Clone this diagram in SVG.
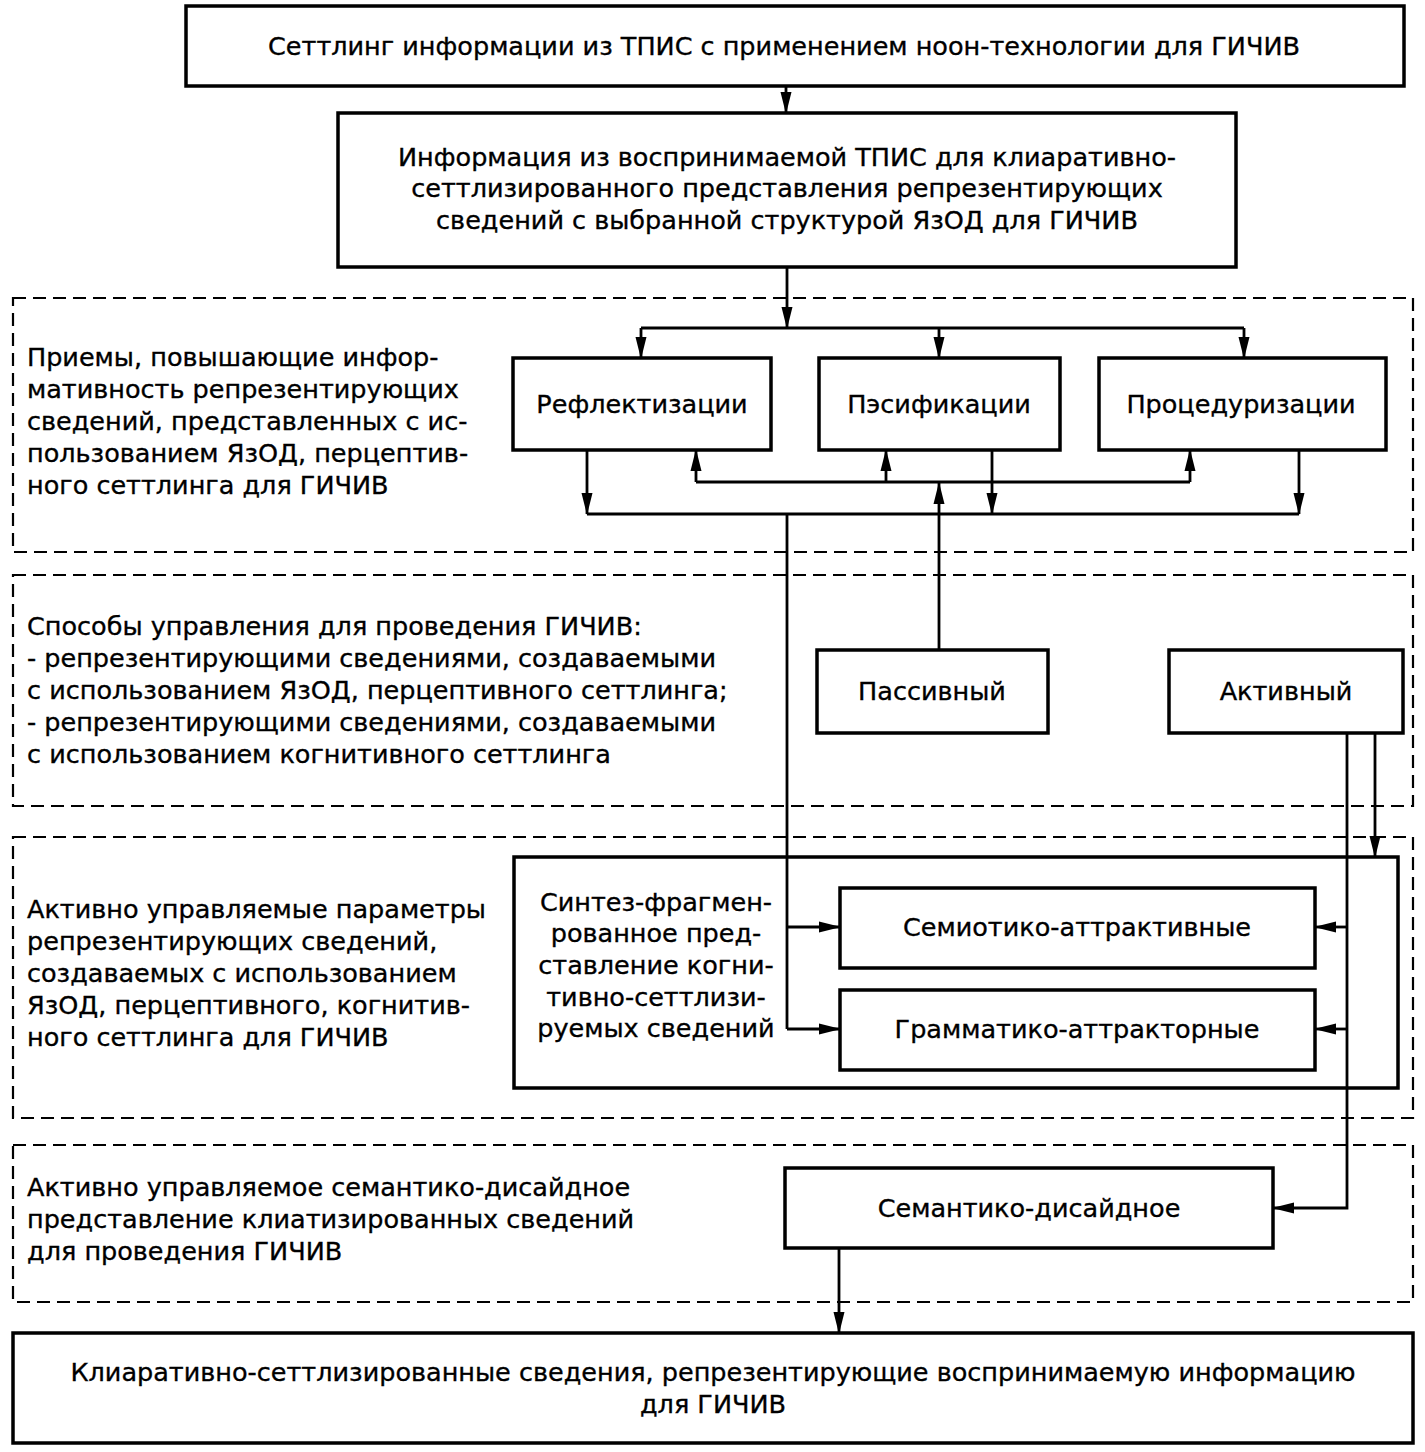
<svg xmlns="http://www.w3.org/2000/svg" width="1425" height="1452" viewBox="0 0 1425 1452">
<defs>
<marker id="ah" markerUnits="userSpaceOnUse" markerWidth="22" markerHeight="12" refX="21" refY="6" orient="auto">
<path d="M0,0.5 L22,6 L0,11.5 z" fill="#000"/>
</marker>
</defs>
<style>
text{font-family:"DejaVu Sans","Liberation Sans",Arial,sans-serif;font-size:25.5px;fill:#000;stroke:#000;stroke-width:0.35}
.c{text-anchor:middle}
.box{fill:#fff;stroke:#000;stroke-width:3.5}
.grp{fill:none;stroke:#000;stroke-width:2.2;stroke-dasharray:13 7}
.ln{fill:none;stroke:#000;stroke-width:2.8}
.ar{fill:none;stroke:#000;stroke-width:2.8;marker-end:url(#ah)}
</style>
<rect width="1425" height="1452" fill="#fff"/>
<g id="groups">
<rect class="grp" x="13" y="298" width="1400" height="254"/>
<rect class="grp" x="13" y="575" width="1400" height="231"/>
<rect class="grp" x="13" y="837" width="1400" height="281"/>
<rect class="grp" x="13" y="1145" width="1400" height="157"/>
</g>
<g id="group-labels">
<text x="27" y="366">Приемы, повышающие инфор-</text>
<text x="27" y="398">мативность репрезентирующих</text>
<text x="27" y="430">сведений, представленных с ис-</text>
<text x="27" y="462">пользованием ЯзОД, перцептив-</text>
<text x="27" y="494">ного сеттлинга для ГИЧИВ</text>
<text x="27" y="635">Способы управления для проведения ГИЧИВ:</text>
<text x="27" y="667">- репрезентирующими сведениями, создаваемыми</text>
<text x="27" y="699">с использованием ЯзОД, перцептивного сеттлинга;</text>
<text x="27" y="731">- репрезентирующими сведениями, создаваемыми</text>
<text x="27" y="763">с использованием когнитивного сеттлинга</text>
<text x="27" y="918">Активно управляемые параметры</text>
<text x="27" y="950">репрезентирующих сведений,</text>
<text x="27" y="982">создаваемых с использованием</text>
<text x="27" y="1014">ЯзОД, перцептивного, когнитив-</text>
<text x="27" y="1046">ного сеттлинга для ГИЧИВ</text>
<text x="27" y="1196">Активно управляемое семантико-дисайдное</text>
<text x="27" y="1228">представление клиатизированных сведений</text>
<text x="27" y="1260">для проведения ГИЧИВ</text>
</g>
<g id="connectors">
<path class="ar" d="M786,86 V113"/>
<path class="ar" d="M787,267 V328"/>
<path class="ln" d="M641,328 H1244"/>
<path class="ar" d="M641,328 V358"/>
<path class="ar" d="M939,328 V358"/>
<path class="ar" d="M1244,328 V358"/>
<path class="ln" d="M696,482 H1190"/>
<path class="ar" d="M696,482 V450"/>
<path class="ar" d="M886,482 V450"/>
<path class="ar" d="M1190,482 V450"/>
<path class="ar" d="M587,450 V514"/>
<path class="ar" d="M992,450 V514"/>
<path class="ar" d="M1299,450 V514"/>
<path class="ln" d="M587,514 H1299"/>
<path class="ln" d="M787,514 V1029"/>
<path class="ar" d="M787,927 H840"/>
<path class="ar" d="M787,1029 H840"/>
<path class="ar" d="M939,650 V483"/>
<path class="ar" d="M1375,733 V857"/>
<path class="ar" d="M1347,733 V1208 H1273"/>
<path class="ar" d="M1347,927 H1315"/>
<path class="ar" d="M1347,1029 H1315"/>
<path class="ar" d="M839,1248 V1333"/>
</g>
<g id="n-top">
<rect class="box" x="186" y="6" width="1218" height="80"/>
<text class="c" x="784" y="55">Сеттлинг информации из ТПИС с применением ноон-технологии для ГИЧИВ</text>
</g>
<g id="n-info">
<rect class="box" x="338" y="113" width="898" height="154"/>
<text class="c" x="787" y="166">Информация из воспринимаемой ТПИС для клиаративно-</text>
<text class="c" x="787" y="197">сеттлизированного представления репрезентирующих</text>
<text class="c" x="787" y="229">сведений с выбранной структурой ЯзОД для ГИЧИВ</text>
</g>
<g id="n-refl">
<rect class="box" x="513" y="358" width="258" height="92"/>
<text class="c" x="642" y="413">Рефлектизации</text>
</g>
<g id="n-pes">
<rect class="box" x="819" y="358" width="241" height="92"/>
<text class="c" x="939" y="413">Пэсификации</text>
</g>
<g id="n-proc">
<rect class="box" x="1099" y="358" width="287" height="92"/>
<text class="c" x="1241" y="413">Процедуризации</text>
</g>
<g id="n-pass">
<rect class="box" x="817" y="650" width="231" height="83"/>
<text class="c" x="932" y="700">Пассивный</text>
</g>
<g id="n-act">
<rect class="box" x="1169" y="650" width="234" height="83"/>
<text class="c" x="1286" y="700">Активный</text>
</g>
<g id="n-synth">
<path class="box" style="fill:none" d="M787,857 H514 V1088 H1398 V857 H787"/>
<text class="c" x="656" y="911">Синтез-фрагмен-</text>
<text class="c" x="656" y="942">рованное пред-</text>
<text class="c" x="656" y="974">ставление когни-</text>
<text class="c" x="656" y="1006">тивно-сеттлизи-</text>
<text class="c" x="656" y="1037">руемых сведений</text>
</g>
<g id="n-semio">
<rect class="box" x="840" y="888" width="475" height="80"/>
<text class="c" x="1077" y="936">Семиотико-аттрактивные</text>
</g>
<g id="n-gram">
<rect class="box" x="840" y="990" width="475" height="80"/>
<text class="c" x="1077" y="1038">Грамматико-аттракторные</text>
</g>
<g id="n-sem">
<rect class="box" x="785" y="1168" width="488" height="80"/>
<text class="c" x="1029" y="1217">Семантико-дисайдное</text>
</g>
<g id="n-bottom">
<rect class="box" x="13" y="1333" width="1400" height="110"/>
<text class="c" x="713" y="1381">Клиаративно-сеттлизированные сведения, репрезентирующие воспринимаемую информацию</text>
<text class="c" x="713" y="1413">для ГИЧИВ</text>
</g>
</svg>
